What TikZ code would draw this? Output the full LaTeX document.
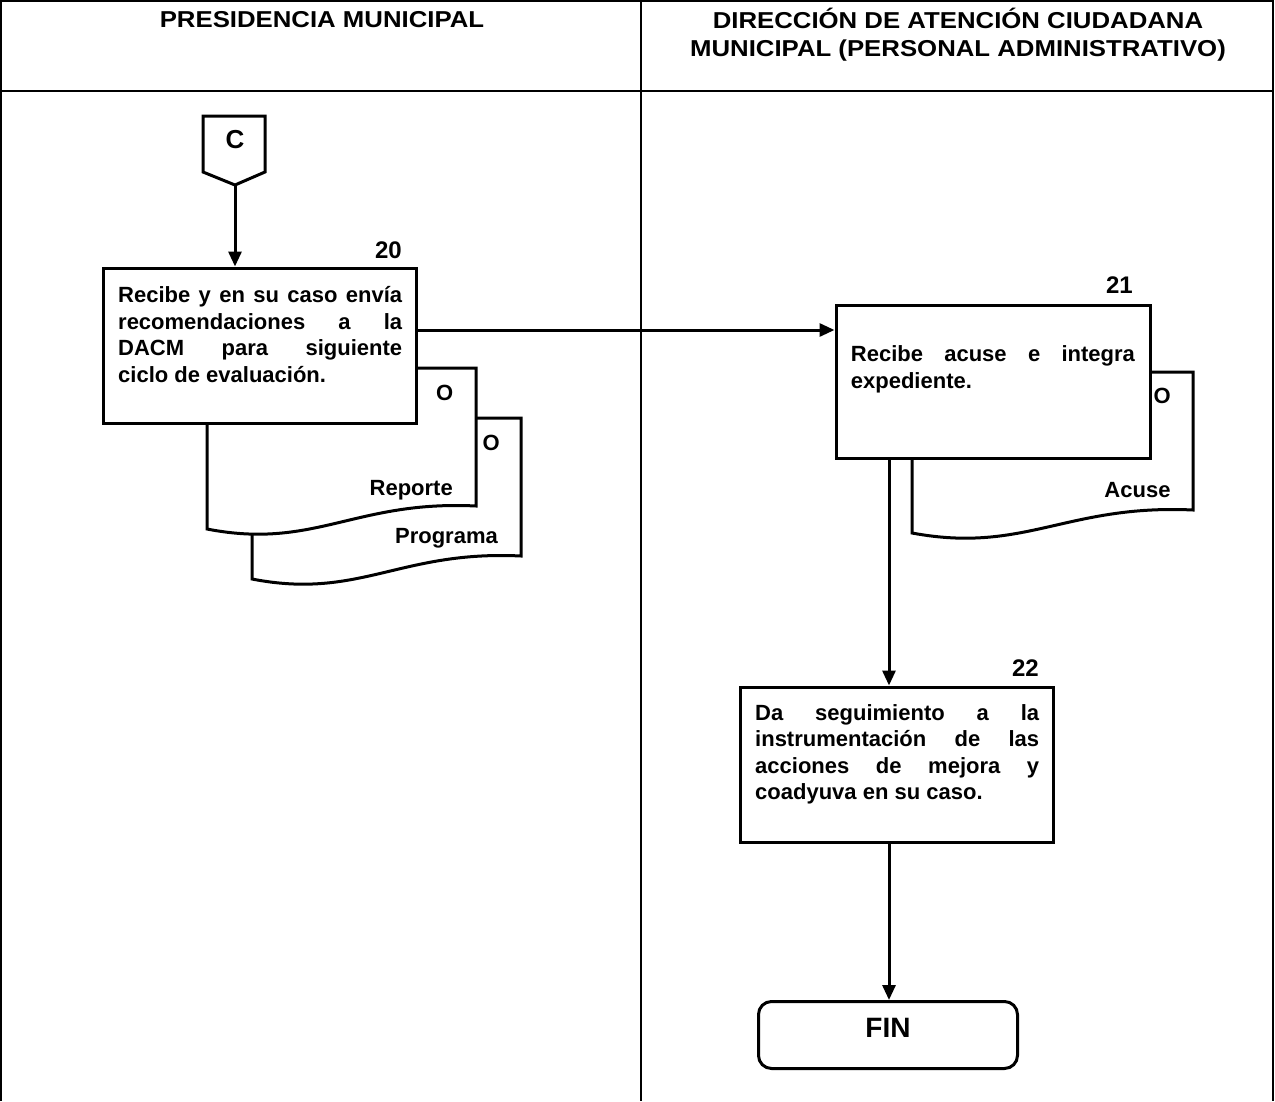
\documentclass[tikz,border=0pt]{standalone}
\usepackage{fontspec}
\setmainfont{Liberation Sans}
\newfontfamily\headfont[FakeStretch=1.12]{Liberation Sans}
\usetikzlibrary{arrows.meta}
\setlength{\parindent}{0pt}
\hyphenpenalty=10000
\exhyphenpenalty=10000
\tolerance=10000

\tikzset{
  pics/docsheet/.style={code={
    \draw[shapeline, fill=white] (0,0) -- (#1,0) -- (#1,138)
      .. controls (0.55*#1,132) and (0.4*#1,182) .. (0,161) -- cycle;
  }}
}

\begin{document}
\begin{tikzpicture}[x=1pt, y=-1pt,
  gridline/.style={line width=2pt},
  shapeline/.style={line width=3pt},
  taskbox/.style={draw, line width=3pt, fill=white, inner sep=0pt,
    minimum width=313pt, minimum height=155pt},
  endbox/.style={draw, line width=3pt, fill=white, rounded corners=13pt,
    minimum width=259pt, minimum height=67pt, inner sep=0pt},
  head/.style={font=\headfont\bfseries\fontsize{23}{27}\selectfont, inner sep=0pt, anchor=base},
  body/.style={font=\bfseries\fontsize{22}{26.5}\selectfont, inner sep=0pt,
    text width=284pt, align=justify, anchor=north west},
  lbl/.style={font=\bfseries\fontsize{22}{26}\selectfont, inner sep=0pt},
  num/.style={font=\bfseries\fontsize{24}{28}\selectfont, inner sep=0pt, anchor=base east},
  flow/.style={line width=3pt, -{Triangle[length=15pt,width=13pt]}}
]
\useasboundingbox (0,0) rectangle (1275,1101);
\fill[white] (0,0) rectangle (1275,1101);

% swimlane table
\draw[gridline] (1,1101) -- (1,1) -- (1273,1) -- (1273,1101);
\draw[gridline] (641,1) -- (641,1101);
\draw[gridline] (1,91) -- (1273,91);
\node[head] (lane1) at (322,27) {PRESIDENCIA MUNICIPAL};
\node[head] (lane2a) at (958,28.5) {DIRECCIÓN DE ATENCIÓN CIUDADANA};
\node[head] (lane2b) at (958,56) {MUNICIPAL (PERSONAL ADMINISTRATIVO)};

% off-page connector C
\coordinate (ctip) at (235,185);
\draw[shapeline] (203,116) -- (265,116) -- (265,172) -- (ctip) -- (203,172) -- cycle;
\node[font=\bfseries\fontsize{26}{30}\selectfont, inner sep=0pt, anchor=base] (clbl) at (235,148.3) {C};

% documents of step 20
\pic at (252,418) {docsheet=269};
\node[lbl, anchor=base east] (o2) at (500,450) {O};
\node[lbl, anchor=base east] (prog) at (498,543.3) {Programa};
\pic at (207,368) {docsheet=269};
\node[lbl, anchor=base east] (o1) at (453.5,400) {O};
\node[lbl, anchor=base east] (rep) at (453,495) {Reporte};

% step 20
\node[taskbox] (b20) at (259.5,345.5) {};
\node[num] (n20) at (402,258.3) {20};
\node[body] (t20) at (118,278.7) {\rule{0pt}{24pt}Recibe y en su caso envía\linebreak
  recomendaciones a la\linebreak DACM para siguiente\linebreak ciclo de evaluación.};

% document of step 21
\pic at (912,372) {docsheet=281};
\node[lbl, anchor=base east] (o3) at (1171,403.3) {O};
\node[lbl, anchor=base east] (acu) at (1170.7,497) {Acuse};

% step 21
\node[taskbox, minimum width=314pt, minimum height=153pt] (b21) at (993,381.5) {};
\node[num] (n21) at (1133,293.3) {21};
\node[body] (t21) at (850.7,337.7) {\rule{0pt}{24pt}Recibe acuse e integra\linebreak expediente.};

% step 22
\node[taskbox] (b22) at (896.5,764.5) {};
\node[num] (n22) at (1039,676) {22};
\node[body] (t22) at (755,696) {\rule{0pt}{24pt}Da seguimiento a la\linebreak
  instrumentación de las\linebreak acciones de mejora y\linebreak coadyuva en su caso.};

% end terminal
\node[endbox] (fin) at (888,1035) {};
\node[font=\bfseries\fontsize{28}{32}\selectfont, inner sep=0pt, anchor=base] (finlbl) at (888,1037.3) {FIN};

% connectors
\coordinate (hrow) at (0,330);
\coordinate (vcol) at (889,0);
\draw[flow] (ctip) -- (ctip |- b20.north);
\draw[flow] (b20.east |- hrow) -- (b21.west |- hrow);
\draw[flow] (b21.south -| vcol) -- (b22.north -| vcol);
\draw[flow] (b22.south -| vcol) -- (fin.north -| vcol);
\end{tikzpicture}
\end{document}
